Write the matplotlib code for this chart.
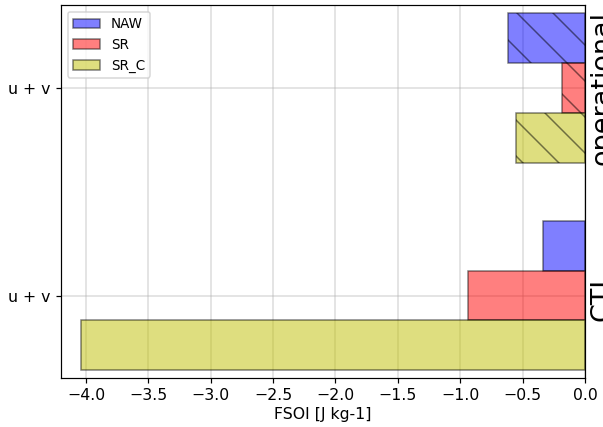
import numpy as np
import matplotlib
matplotlib.use('Agg')
import matplotlib.pyplot as plt
import matplotlib.transforms as mtransforms

plt.rcParams['font.family'] = ['DejaVu Sans']
plt.rcParams['font.size'] = 10.5
plt.rcParams['axes.unicode_minus'] = True

# ── data ────────────────────────────────────────────────────────────────────
experiments = ['CTL', 'operational']        # bottom -> top
obs_label   = 'u + v'
naw   = [-0.34, -0.615]
sr    = [-0.94, -0.185]
sr_c  = [-4.04, -0.55]
hatches = ['', '\\']                         # operational bars are hatched

series = [
    ('NAW',  naw,  'b'),
    ('SR',   sr,   'r'),
    ('SR_C', sr_c, 'y'),
]

# ── figure ──────────────────────────────────────────────────────────────────
DPI = 108
fig = plt.figure(figsize=(603 / DPI, 427 / DPI), dpi=DPI)
ax = fig.add_axes([61 / 603, 1 - 377.5 / 427, 524 / 603, 372.5 / 427])

y0 = np.arange(len(experiments))
h = 0.24
offsets = [h, 0.0, -h]                      # NAW on top, SR_C at bottom

for (name, vals, col), off in zip(series, offsets):
    for i, v in enumerate(vals):
        ax.barh(y0[i] + off, v, height=h, color=col, alpha=0.5,
                edgecolor='k', lw=1, hatch=hatches[i],
                label=name if i == 0 else None)

ax.set_xlim(-4.2, 0.0)
ax.set_ylim(-0.395, 1.4)
ax.set_xticks(np.arange(-4.0, 0.01, 0.5))
ax.set_yticks(y0)
ax.set_yticklabels([obs_label] * len(experiments))
ax.set_xlabel('FSOI [J kg-1]', labelpad=3)
ax.set_axisbelow(True)
ax.grid(color='#b0b0b0', alpha=0.45, lw=1)

# experiment names on the right side
trans = mtransforms.blended_transform_factory(ax.transAxes, ax.transData)
for i, name in enumerate(experiments):
    ax.text(1.008, y0[i], name, transform=trans, rotation=90,
            ha='left', va='center', fontsize=18, clip_on=False)

ax.legend(loc='upper left', fontsize=9)

fig.savefig('out.png', dpi=DPI)
